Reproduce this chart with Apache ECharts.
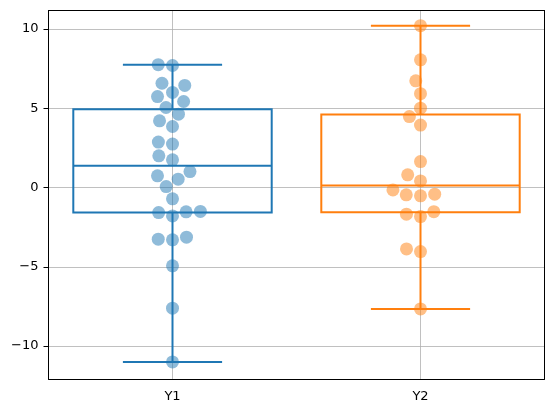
<!DOCTYPE html>
<html>
<head>
<meta charset="utf-8">
<script src="https://cdn.jsdelivr.net/npm/echarts@6/dist/echarts.min.js"></script>
<style>
  html, body { margin: 0; padding: 0; background: #fff; }
  #chart { width: 554px; height: 413px; }
</style>
</head>
<body>
<div id="chart"></div>
<script>
// data
const categories = ['Y1', 'Y2'];
const y1Values = [7.75, 7.70, 6.58, 6.44, 6.00, 5.74, 5.43, 5.05, 4.63, 4.21, 3.85, 2.87, 2.74, 2.00, 1.75,
  1.01, 0.74, 0.53, 0.06, -0.71, -1.58, -1.79, -1.53, -1.51, -3.26, -3.30, -3.13, -4.94, -7.61, -11.00];
const y2Values = [10.21, 8.06, 6.73, 5.92, 5.01, 4.48, 3.94, 1.64, 0.80, 0.42, -0.15, -0.46, -0.52, -0.42,
  -1.68, -1.83, -1.52, -3.87, -4.04, -7.66];
const yTickValues = [-10, -5, 0, 5, 10];

const colors = ['#1f77b4', '#ff7f0e'];
const font = 'DejaVu Sans';
const allValues = [y1Values, y2Values];

// numpy style linear quantile
function quantile(sorted, p) {
  const pos = (sorted.length - 1) * p;
  const lo = Math.floor(pos), hi = Math.ceil(pos);
  return sorted[lo] + (sorted[hi] - sorted[lo]) * (pos - lo);
}

function boxStats(values) {
  const s = values.slice().sort((a, b) => a - b);
  const q1 = quantile(s, 0.25), med = quantile(s, 0.5), q3 = quantile(s, 0.75);
  const iqr = q3 - q1;
  const low = Math.min(...s.filter(v => v >= q1 - 1.5 * iqr));
  const high = Math.max(...s.filter(v => v <= q3 + 1.5 * iqr));
  return [low, q1, med, q3, high];
}

const boxData = categories.map((c, i) => [c].concat(boxStats(allValues[i])));

function renderBox(params, api) {
  const i = params.dataIndex;
  const band = api.size([1, 0])[0];
  const yOf = k => api.coord([api.value(0), api.value(k)])[1];
  const x = api.coord([api.value(0), api.value(3)])[0];
  const low = yOf(1), q1 = yOf(2), med = yOf(3), q3 = yOf(4), high = yOf(5);
  const bw = band * 0.4, cw = band * 0.2;
  const st = { stroke: colors[i], lineWidth: 2, fill: 'none' };
  const line = (x1, y1, x2, y2) => ({ type: 'line', shape: { x1, y1, x2, y2 }, style: st });
  return {
    type: 'group',
    children: [
      { type: 'rect', shape: { x: x - bw, y: q3, width: 2 * bw, height: q1 - q3 }, style: st },
      line(x - bw, med, x + bw, med),
      line(x, q3, x, high),
      line(x, q1, x, low),
      line(x - cw, high, x + cw, high),
      line(x - cw, low, x + cw, low)
    ]
  };
}

const frameAxis = { show: true, onZero: false, lineStyle: { color: '#000', width: 1 } };

const chart = echarts.init(document.getElementById('chart'));

chart.setOption({
  animation: false,
  grid: { left: 48.5, right: 9.5, top: 10.5, bottom: 34 },
  xAxis: [{
    type: 'category',
    data: categories,
    boundaryGap: true,
    axisLine: frameAxis,
    axisTick: { alignWithLabel: true, length: 5, lineStyle: { color: '#000' } },
    axisLabel: { color: '#000', fontSize: 13, fontFamily: font, margin: 11 },
    splitLine: { show: false }
  }, {
    type: 'value',
    min: -0.5,
    max: 1.5,
    minInterval: 1,
    position: 'bottom',
    axisLine: { show: false },
    axisTick: { show: false },
    axisLabel: { show: false },
    splitLine: { show: true, lineStyle: { color: '#b0b0b0', width: 0.8 } }
  }, {
    type: 'category',
    data: categories,
    position: 'top',
    axisLine: frameAxis,
    axisTick: { show: false },
    axisLabel: { show: false },
    splitLine: { show: false }
  }],
  yAxis: [{
    type: 'value',
    min: -12.08,
    max: 11.17,
    position: 'left',
    axisLine: frameAxis,
    axisTick: { show: true, length: 5, customValues: yTickValues, lineStyle: { color: '#000' } },
    axisLabel: {
      color: '#000', fontSize: 13, fontFamily: font, margin: 10,
      customValues: yTickValues,
      formatter: v => String(v).replace('-', '\u2212')
    },
    splitLine: { show: true, lineStyle: { color: '#b0b0b0', width: 0.8 } }
  }, {
    type: 'value',
    min: -12.08,
    max: 11.17,
    position: 'right',
    axisLine: frameAxis,
    axisTick: { show: false },
    axisLabel: { show: false },
    splitLine: { show: false }
  }],
  series: [{
    type: 'custom',
    xAxisIndex: 0,
    yAxisIndex: 0,
    renderItem: renderBox,
    encode: { x: 0, y: [1, 2, 3, 4, 5] },
    data: boxData,
    z: 2
  }].concat(categories.map((c, i) => ({
    type: 'scatter',
    name: c,
    xAxisIndex: 1,
    yAxisIndex: 0,
    symbolSize: 13,
    itemStyle: { color: colors[i], opacity: 0.5 },
    data: [],
    z: 3
  })))
});

// seaborn-like beeswarm, worked out in pixels
function swarm(values) {
  const r = 6.8;
  const pts = values.map(v => ({ v, y: -chart.convertToPixel({ yAxisIndex: 0 }, v), x: 0 }));
  const order = pts.slice().sort((a, b) => a.y - b.y);
  const placed = [order[0]];
  for (let k = 1; k < order.length; k++) {
    const p = order[k];
    const nb = [];
    for (let j = placed.length - 1; j >= 0; j--) {
      if (p.y - placed[j].y < 2 * r) nb.unshift(placed[j]);
      else break;
    }
    const cand = [0];
    let leftFirst = true;
    nb.forEach(q => {
      const dy = p.y - q.y;
      const dx = Math.sqrt(Math.max(4 * r * r - dy * dy, 0)) * 1.05;
      if (leftFirst) cand.push(q.x - dx, q.x + dx);
      else cand.push(q.x + dx, q.x - dx);
      leftFirst = !leftFirst;
    });
    const sortedCand = cand.map((x, idx) => ({ x, idx }))
      .sort((a, b) => Math.abs(a.x) - Math.abs(b.x) || a.idx - b.idx);
    let chosen = sortedCand[0].x;
    for (const c of sortedCand) {
      const ok = nb.every(q => (q.x - c.x) ** 2 + (q.y - p.y) ** 2 >= 4 * r * r - 1e-9);
      if (ok) { chosen = c.x; break; }
    }
    p.x = chosen;
    placed.push(p);
  }
  return pts;
}

const pxPerX = chart.convertToPixel({ xAxisIndex: 1 }, 1) - chart.convertToPixel({ xAxisIndex: 1 }, 0);

chart.setOption({
  series: [{}].concat(categories.map((c, i) => ({
    data: swarm(allValues[i]).map(p => [i + p.x / pxPerX, p.v])
  })))
});
</script>
</body>
</html>
